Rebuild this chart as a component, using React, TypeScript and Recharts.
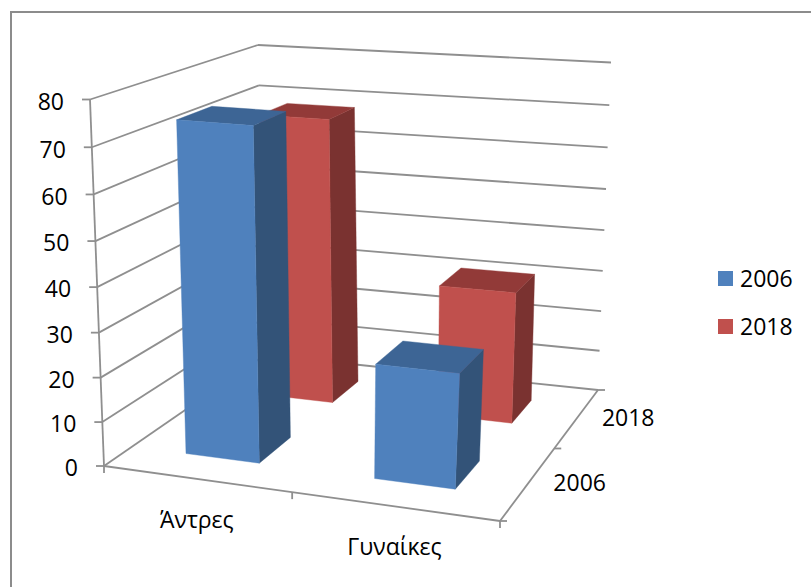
import React from 'react';
import { BarChart, Bar, XAxis, YAxis, Legend, Customized } from 'recharts';

const categories = ['Άντρες', 'Γυναίκες'];
const seriesNames = ['2006', '2018'];
const values2006 = [74.4, 25.5];
const values2018 = [68.2, 31.2];
const valueTicks = [0, 10, 20, 30, 40, 50, 60, 70, 80];

const data = categories.map((name, i) => ({ name, s2006: values2006[i], s2018: values2018[i] }));

const W = 811;
const H = 587;
const AXIS_SIZE = 1;
const M = { top: 60, right: 200, bottom: 60, left: 100 };
const PLOT_W = W - M.left - M.right - AXIS_SIZE;
const PLOT_H = H - M.top - M.bottom - AXIS_SIZE;
const PLOT_LEFT = M.left + AXIS_SIZE;
const BAR_SIZE = PLOT_W * 0.2;

const FONT = "'Open Sans', 'Noto Sans', sans-serif";
const FONT_SIZE = 23;
const GRID = '#8f8f8f';

type Pt = [number, number];

// the four floor and ceiling corners of the 3d box: front-left, front-right, back-right, back-left
const FLOOR: Pt[] = [[104, 466], [500, 521], [598, 390], [265, 355]];
const CEIL: Pt[] = [[90, 99.5], [525, 133], [611, 62.5], [258, 45]];
const HEIGHT_BEND = 0.049;

function quad(c: Pt[], u: number, w: number): Pt {
  const [p0, p1, p2, p3] = c;
  const dx1 = p1[0] - p2[0];
  const dx2 = p3[0] - p2[0];
  const sx = p0[0] - p1[0] + p2[0] - p3[0];
  const dy1 = p1[1] - p2[1];
  const dy2 = p3[1] - p2[1];
  const sy = p0[1] - p1[1] + p2[1] - p3[1];
  const den = dx1 * dy2 - dx2 * dy1;
  const g = (sx * dy2 - dx2 * sy) / den;
  const h = (dx1 * sy - sx * dy1) / den;
  const a = p1[0] - p0[0] + g * p1[0];
  const b = p3[0] - p0[0] + h * p3[0];
  const d = p1[1] - p0[1] + g * p1[1];
  const e = p3[1] - p0[1] + h * p3[1];
  const q = 1 + g * u + h * w;
  return [(a * u + b * w + p0[0]) / q, (d * u + e * w + p0[1]) / q];
}

// u along the categories, v up the value axis, w into the depth
function project(u: number, v: number, w: number): Pt {
  const f = quad(FLOOR, u, w);
  const t = quad(CEIL, u, w);
  const s = v / (1 + HEIGHT_BEND * (1 - v));
  return [f[0] + (t[0] - f[0]) * s, f[1] + (t[1] - f[1]) * s];
}

const path = (pts: Pt[]) => pts.map((p) => p[0].toFixed(1) + ',' + p[1].toFixed(1)).join(' ');

const makeBar = (depth: number, front: string, side: string, top: string) => (props: any) => {
  const u0 = (props.x - PLOT_LEFT) / PLOT_W;
  const u1 = (props.x + props.width - PLOT_LEFT) / PLOT_W;
  const v = props.height / PLOT_H;
  const w0 = depth - 0.1;
  const w1 = depth + 0.1;
  return (
    <g>
      <polygon points={path([project(u1, 0, w0), project(u1, 0, w1), project(u1, v, w1), project(u1, v, w0)])} fill={side} stroke={side} strokeWidth={0.4} />
      <polygon points={path([project(u0, v, w0), project(u1, v, w0), project(u1, v, w1), project(u0, v, w1)])} fill={top} stroke={top} strokeWidth={0.4} />
      <polygon points={path([project(u0, 0, w0), project(u1, 0, w0), project(u1, v, w0), project(u0, v, w0)])} fill={front} stroke={front} strokeWidth={0.4} />
    </g>
  );
};

const Bar2006 = makeBar(0.25, '#4f81bd', '#335378', '#3d6595');
const Bar2018 = makeBar(0.75, '#c0504d', '#7a3230', '#923a38');

const line = (a: Pt, b: Pt, key: string) => (
  <line key={key} x1={a[0]} y1={a[1]} x2={b[0]} y2={b[1]} stroke={GRID} strokeWidth={1.8} />
);

const Walls = () => (
  <g>
    {valueTicks.map((t) => {
      const v = t / valueTicks[valueTicks.length - 1];
      const a = project(0, v, 0);
      return (
        <g key={t}>
          {line(a, project(0, v, 1), 'l')}
          {line(project(0, v, 1), project(1, v, 1), 'b')}
          {line(a, [a[0] - 8, a[1]], 't')}
        </g>
      );
    })}
    {line(project(0, 0, 0), project(0, 1, 0), 'axis')}
    {line(project(0, 0, 0), project(1, 0, 0), 'front')}
    {line(project(1, 0, 0), project(1, 0, 1), 'right')}
    {[0, 0.5, 1].map((u) => {
      const a = project(u, 0, 0);
      return line(a, [a[0], a[1] + 7], 'xt' + u);
    })}
    {[0, 0.5, 1].map((w) => {
      const a = project(1, 0, w);
      return line(a, [a[0] + 7, a[1]], 'zt' + w);
    })}
  </g>
);

const DepthLabels = () => (
  <g>
    {seriesNames.map((name, i) => {
      const p = project(1, 0, 0.25 + i * 0.5);
      return (
        <text key={name} x={p[0] + 51} y={p[1]} dy="0.36em" textAnchor="middle" fontFamily={FONT} fontSize={FONT_SIZE} fill="#000">
          {name}
        </text>
      );
    })}
  </g>
);

const ValueTick = (props: any) => {
  const v = (M.top + PLOT_H - props.y) / PLOT_H;
  const p = project(0, v, 0);
  return (
    <text x={p[0] - 26} y={p[1] + 2} dy="0.36em" textAnchor="end" fontFamily={FONT} fontSize={FONT_SIZE} fill="#000">
      {props.payload.value}
    </text>
  );
};

const CategoryTick = (props: any) => {
  const p = project((props.x - PLOT_LEFT) / PLOT_W, 0, 0);
  return (
    <text x={p[0] + 1} y={p[1] + 41} dy="0.36em" textAnchor="middle" fontFamily={FONT} fontSize={FONT_SIZE} fill="#000">
      {props.payload.value}
    </text>
  );
};

const legendColors = ['#4f81bd', '#c0504d'];

const LegendList = () => (
  <div style={{ fontFamily: FONT, fontSize: FONT_SIZE, color: '#000', width: 90 }}>
    {seriesNames.map((name, i) => (
      <div key={name} style={{ display: 'flex', alignItems: 'center', height: 48 }}>
        <span style={{ width: 15, height: 15, background: legendColors[i], marginRight: 7 }} />
        {name}
      </div>
    ))}
  </div>
);

export default function App() {
  return (
    <div style={{ position: 'absolute', left: 0, top: 0, width: W, height: H, overflow: 'hidden', background: '#fff' }}>
      <div style={{ position: 'absolute', left: 10, top: 11, width: W + 20, height: H + 20, border: '2px solid #8c8c8c' }} />
      <BarChart width={W} height={H} data={data} margin={M} barCategoryGap={0} barSize={BAR_SIZE} barGap={-BAR_SIZE}>
        <Customized component={Walls} />
        <XAxis dataKey="name" height={AXIS_SIZE} axisLine={false} tickLine={false} tick={CategoryTick} interval={0} />
        <YAxis width={AXIS_SIZE} domain={[0, 80]} ticks={valueTicks} axisLine={false} tickLine={false} tick={ValueTick} interval={0} />
        <Legend content={LegendList} wrapperStyle={{ position: 'absolute', left: 718, top: 254, width: 0, height: 0, bottom: 'auto' }} />
        <Bar dataKey="s2018" name="2018" isAnimationActive={false} shape={Bar2018} />
        <Bar dataKey="s2006" name="2006" isAnimationActive={false} shape={Bar2006} />
        <Customized component={DepthLabels} />
      </BarChart>
    </div>
  );
}
